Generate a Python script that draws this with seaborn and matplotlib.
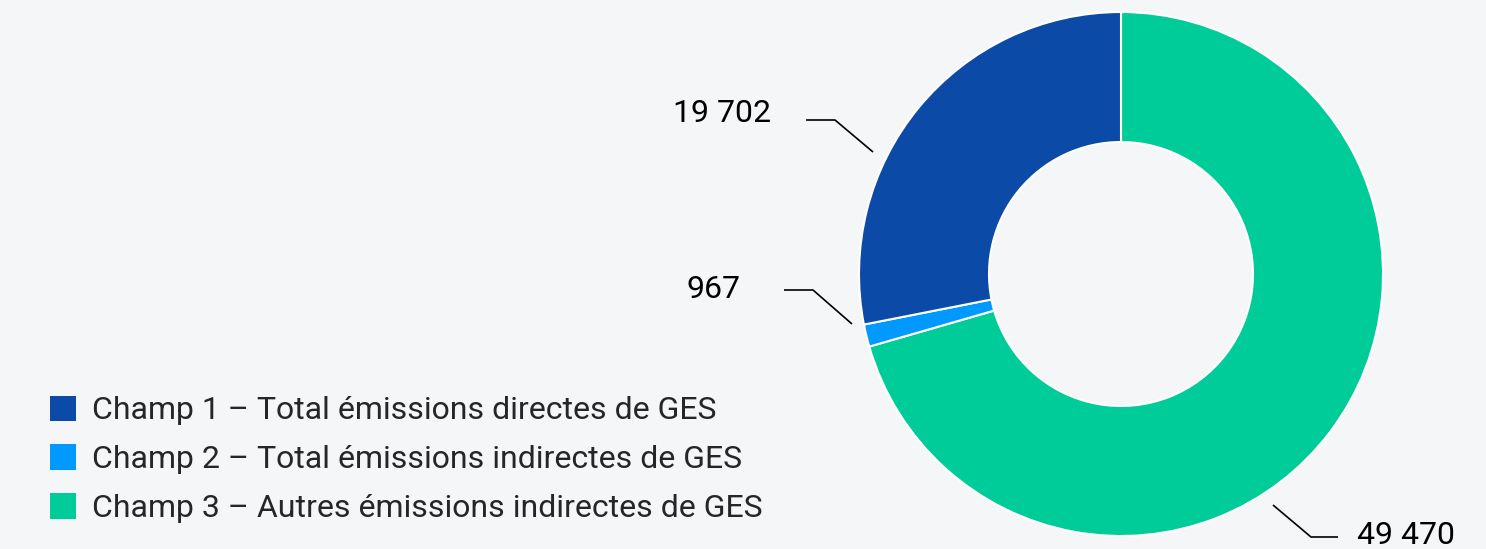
import matplotlib
matplotlib.use("Agg")
import matplotlib.pyplot as plt
import seaborn as sns
from matplotlib.patches import Patch

# Data
categories = ["Champ 1 – Total émissions directes de GES",
              "Champ 2 – Total émissions indirectes de GES",
              "Champ 3 – Autres émissions indirectes de GES"]
values = [19702, 967, 49470]
value_labels = ["19 702", "967", "49 470"]
colors = ["#0b4aa6", "#0099ff", "#00cc99"]

BG = "#f5f6f8"
sns.set_theme(style="white", rc={"figure.facecolor": BG, "axes.facecolor": BG})
plt.rcParams["font.family"] = ["Roboto", "DejaVu Sans"]

W, H = 1486, 549
fig = plt.figure(figsize=(W / 100, H / 100), dpi=100)
ax = fig.add_axes([0, 0, 1, 1])

cx, cy, R = 1121, H - 274, 262
# drawing order: green first clockwise from top, then light blue, dark blue
order = [2, 1, 0]
wedges, _ = ax.pie([values[i] for i in order], colors=[colors[i] for i in order],
                   startangle=90, counterclock=False, center=(cx, cy), radius=R,
                   wedgeprops=dict(width=R - 132, edgecolor="white", linewidth=1.5),
                   frame=True)
ax.set_xlim(0, W)
ax.set_ylim(0, H)
ax.set_aspect("equal")
ax.axis("off")

# label layout (image pixel coords): anchor, elbow, line end, text pos, ha
label_layout = {
    0: ((873, 152), (835, 120), (806, 120), (771, 113), "right"),
    1: ((852, 324), (813, 290), (784, 290), (740, 290), "right"),
    2: ((1273, 505), (1311, 537), (1338, 537), (1357, 536), "left"),
}
for i, (a, e, f, t, ha) in label_layout.items():
    xs = [a[0], e[0], f[0]]
    ys = [H - a[1], H - e[1], H - f[1]]
    ax.plot(xs, ys, color="black", lw=1.2, solid_capstyle="butt")
    ax.text(t[0], H - t[1], value_labels[i], ha=ha, va="center", fontsize=23, color="black")

handles = [Patch(facecolor=c, edgecolor="none") for c in colors]
leg = ax.legend(handles, categories, loc="upper left",
                bbox_to_anchor=(40 / W, 1 - 386 / H), fontsize=23,
                frameon=False, handlelength=0.84, handleheight=0.84,
                handletextpad=0.5, labelspacing=0.6, borderaxespad=0, borderpad=0.3)

fig.savefig("out.png", dpi=100, facecolor=BG)
